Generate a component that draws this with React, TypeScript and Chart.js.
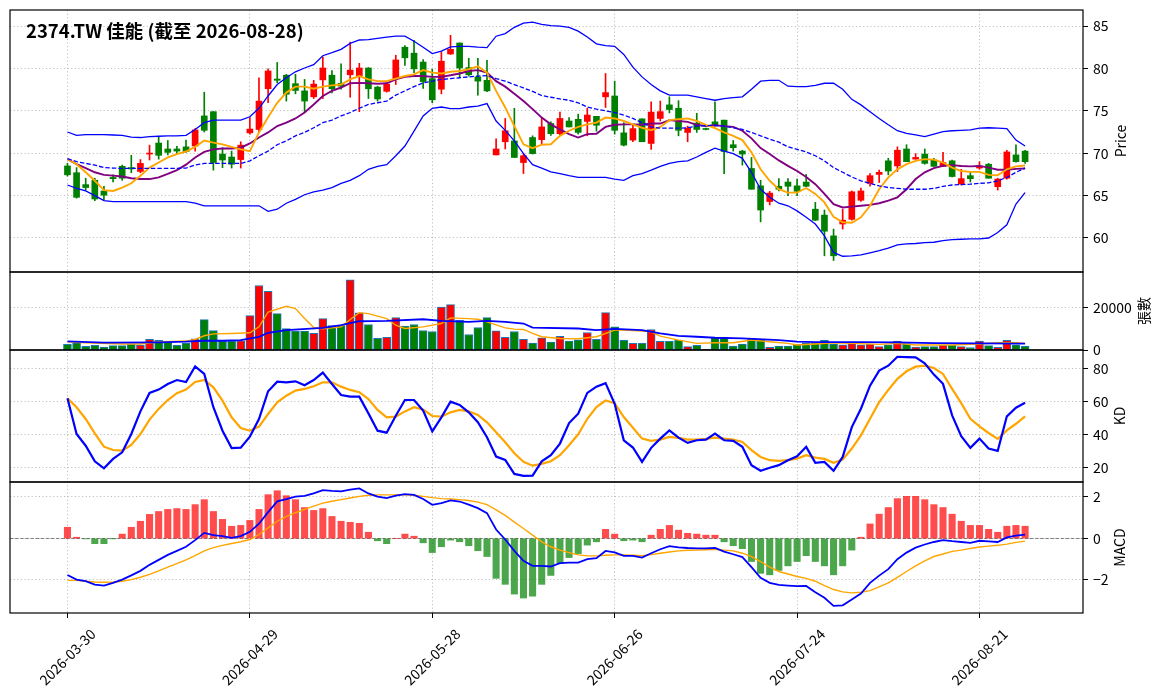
import React, { useEffect, useRef } from "react";
import { Chart, registerables } from "chart.js";

Chart.register(...registerables);

// ---------- data ----------
const title = "2374.TW 佳能 (截至 2026-08-28)";

const dates = [
  "2026-03-30", "2026-03-31", "2026-04-01", "2026-04-02", "2026-04-07", "2026-04-08", "2026-04-09", "2026-04-10", "2026-04-13", "2026-04-14",
  "2026-04-15", "2026-04-16", "2026-04-17", "2026-04-20", "2026-04-21", "2026-04-22", "2026-04-23", "2026-04-24", "2026-04-27", "2026-04-28",
  "2026-04-29", "2026-04-30", "2026-05-04", "2026-05-05", "2026-05-06", "2026-05-07", "2026-05-08", "2026-05-11", "2026-05-12", "2026-05-13",
  "2026-05-14", "2026-05-15", "2026-05-18", "2026-05-19", "2026-05-20", "2026-05-21", "2026-05-22", "2026-05-25", "2026-05-26", "2026-05-27",
  "2026-05-28", "2026-05-29", "2026-06-01", "2026-06-02", "2026-06-03", "2026-06-04", "2026-06-05", "2026-06-08", "2026-06-09", "2026-06-10",
  "2026-06-11", "2026-06-12", "2026-06-15", "2026-06-16", "2026-06-17", "2026-06-18", "2026-06-22", "2026-06-23", "2026-06-24", "2026-06-25",
  "2026-06-26", "2026-06-29", "2026-06-30", "2026-07-01", "2026-07-02", "2026-07-03", "2026-07-06", "2026-07-07", "2026-07-08", "2026-07-09",
  "2026-07-10", "2026-07-13", "2026-07-14", "2026-07-15", "2026-07-16", "2026-07-17", "2026-07-20", "2026-07-21", "2026-07-22", "2026-07-23",
  "2026-07-24", "2026-07-27", "2026-07-28", "2026-07-29", "2026-07-30", "2026-07-31", "2026-08-03", "2026-08-04", "2026-08-05", "2026-08-06",
  "2026-08-07", "2026-08-10", "2026-08-11", "2026-08-12", "2026-08-13", "2026-08-14", "2026-08-17", "2026-08-18", "2026-08-19", "2026-08-20",
  "2026-08-21", "2026-08-24", "2026-08-25", "2026-08-26", "2026-08-27", "2026-08-28",
];

const opens = [
  68.5, 67.7, 66.3, 66.8, 65.55, 67.15, 68.45, 68.3, 67.85, 69.9,
  71.2, 70.5, 70.5, 70.75, 70.85, 74.4, 74.9, 69.9, 69.55, 69.25,
  72.4, 72.8, 77.6, 78.75, 79.2, 78.2, 77.35, 76.65, 78.65, 79.2,
  78.25, 79.25, 79.15, 80.05, 77.8, 77.3, 78.8, 82.5, 81.8, 80.75,
  78.8, 77.55, 81.7, 83.0, 80.1, 79.0, 78.6, 69.8, 71.35, 71.45,
  68.9, 71.85, 71.6, 73.5, 72.3, 73.8, 74.0, 73.75, 74.35, 76.65,
  76.75, 72.4, 71.55, 74.05, 71.15, 74.1, 75.7, 75.3, 72.45, 73.55,
  72.9, 73.7, 73.9, 71.0, 70.25, 68.2, 66.15, 64.3, 66.1, 66.6,
  66.15, 66.6, 63.4, 62.7, 60.25, 61.65, 62.2, 64.45, 66.45, 67.5,
  69.1, 68.5, 70.5, 69.3, 69.9, 69.2, 68.45, 69.1, 66.35, 67.35,
  68.25, 68.7, 66.05, 67.05, 69.8, 70.25,
];
const highs = [
  68.8, 68.3, 67.05, 67.05, 66.1, 67.45, 68.6, 69.75, 69.25, 70.95,
  71.9, 71.5, 70.8, 71.55, 72.9, 77.2, 74.9, 70.65, 70.25, 71.35,
  74.2, 78.9, 79.95, 80.7, 79.3, 79.3, 78.7, 78.6, 81.35, 79.75,
  80.55, 83.1, 80.6, 80.1, 77.9, 78.3, 81.55, 82.7, 83.3, 81.05,
  79.9, 81.95, 83.9, 83.0, 81.2, 81.2, 80.95, 71.7, 74.1, 75.3,
  69.95, 72.05, 74.2, 73.7, 74.85, 74.2, 74.6, 75.3, 74.35, 79.4,
  78.5, 73.6, 73.4, 74.05, 76.05, 76.15, 76.65, 76.2, 73.2, 74.7,
  72.95, 76.05, 73.9, 71.5, 70.35, 69.5, 66.8, 65.5, 67.0, 67.0,
  66.95, 67.5, 64.2, 63.3, 61.05, 63.4, 65.55, 65.9, 67.6, 68.0,
  69.4, 70.75, 71.0, 69.95, 70.5, 69.4, 70.1, 69.2, 68.1, 67.85,
  69.0, 68.8, 67.05, 70.35, 71.0, 70.35,
];
const lows = [
  67.3, 64.7, 65.65, 64.4, 64.5, 66.6, 66.8, 67.7, 67.7, 69.2,
  69.3, 69.8, 69.95, 70.1, 70.25, 72.5, 68.0, 68.3, 68.25, 68.25,
  72.25, 72.45, 75.95, 78.3, 76.15, 77.0, 74.9, 76.45, 76.45, 77.1,
  77.55, 76.6, 74.9, 76.45, 76.15, 77.2, 78.1, 80.35, 79.5, 77.65,
  75.95, 77.0, 81.65, 79.0, 79.1, 76.85, 77.25, 69.8, 70.5, 69.5,
  67.6, 69.9, 71.0, 72.1, 72.1, 73.1, 72.25, 72.05, 72.6, 75.4,
  72.25, 70.85, 71.35, 71.35, 70.45, 73.8, 74.75, 72.05, 71.35, 72.45,
  72.75, 73.2, 67.6, 70.25, 68.6, 65.75, 61.9, 63.9, 65.55, 65.0,
  65.0, 66.05, 62.05, 57.9, 57.35, 61.05, 62.1, 64.3, 66.1, 66.55,
  67.45, 67.85, 69.0, 69.3, 68.7, 68.45, 68.45, 67.2, 66.25, 66.6,
  68.1, 67.05, 65.65, 66.95, 68.95, 68.8,
];
const closes = [
  67.45, 64.8, 65.95, 64.6, 65.05, 67.0, 67.05, 68.15, 68.8, 69.95,
  69.75, 70.1, 70.25, 70.2, 72.75, 72.7, 68.9, 69.2, 68.7, 70.95,
  72.85, 76.15, 79.7, 78.6, 76.95, 77.4, 76.15, 78.15, 80.05, 77.6,
  77.9, 79.8, 80.05, 77.6, 76.4, 78.15, 81.0, 81.25, 79.95, 78.45,
  76.3, 80.85, 82.25, 80.05, 79.25, 78.5, 77.35, 70.5, 72.65, 69.5,
  69.7, 69.95, 73.1, 72.3, 74.1, 73.1, 72.45, 74.5, 73.3, 77.15,
  72.7, 70.95, 72.9, 71.35, 74.85, 74.9, 75.15, 72.7, 72.95, 72.8,
  72.8, 73.3, 70.2, 70.65, 69.9, 65.75, 63.3, 65.3, 65.75, 66.1,
  65.5, 66.1, 62.1, 60.8, 57.9, 62.1, 65.45, 65.55, 67.35, 67.75,
  67.9, 70.35, 69.0, 69.5, 68.8, 68.45, 68.9, 67.25, 67.0, 67.0,
  68.5, 67.05, 66.95, 70.15, 69.0, 69.0,
];
const volumes = [
  2680, 3470, 1730, 2200, 1420, 2050, 2050, 2680, 2360, 5040,
  4570, 3620, 2200, 3300, 5350, 14490, 9290, 4100, 4100, 4410,
  16380, 30700, 27900, 17300, 10240, 8980, 8980, 7880, 14960, 11650,
  11650, 33400, 17640, 12130, 5510, 5990, 15440, 11340, 12130, 9290,
  8820, 20480, 21580, 14180, 7400, 10710, 15440, 9140, 5990, 8820,
  5040, 3300, 5830, 3780, 6460, 4250, 4880, 8350, 5040, 17800,
  11030, 4570, 3150, 3150, 9770, 4100, 4100, 4730, 1580, 2200,
  300, 5990, 5830, 1890, 2840, 5510, 5200, 1260, 1890, 1890,
  2680, 3300, 3300, 4570, 2840, 2520, 3000, 2520, 2840, 1580,
  2520, 4250, 3000, 1420, 1580, 1580, 2200, 2360, 1580, 1100,
  4250, 2050, 1260, 4570, 2520, 1730,
];
const bbUpper = [
  72.5, 72.1, 72.2, 72.2, 72.2, 72.15, 72.1, 71.9, 71.85, 71.95,
  72.0, 72.05, 72.05, 72.1, 72.8, 73.6, 73.9, 73.9, 73.9, 73.9,
  74.3, 75.3, 76.75, 78.1, 78.9, 79.6, 80.05, 80.45, 81.5, 81.85,
  82.25, 82.95, 83.35, 83.4, 83.55, 83.7, 83.8, 83.8, 83.2, 82.5,
  81.75, 82.05, 82.55, 82.6, 82.6, 82.5, 82.45, 83.8, 84.1, 84.85,
  85.35, 85.45, 85.2, 85.05, 85.0, 84.85, 84.4, 83.7, 82.9, 82.7,
  82.6, 81.65, 80.15, 79.0, 78.1, 77.35, 76.85, 76.85, 76.85, 76.65,
  76.45, 76.25, 76.45, 76.55, 76.65, 77.55, 78.5, 78.6, 78.6, 77.9,
  77.85, 77.85, 78.0, 78.25, 78.25, 77.55, 76.35, 75.7, 74.9, 74.1,
  73.35, 72.65, 72.35, 72.15, 71.95, 72.25, 72.55, 72.65, 72.7, 72.75,
  72.95, 73.0, 72.95, 72.9, 71.55, 70.85,
];
const bbMid = [
  69.35, 69.0, 68.8, 68.6, 68.3, 68.25, 68.2, 68.2, 68.2, 68.2,
  68.2, 68.2, 68.2, 68.25, 68.6, 68.8, 68.8, 68.8, 68.8, 68.8,
  69.1, 69.7, 70.25, 71.0, 71.45, 72.05, 72.45, 73.0, 73.6, 73.9,
  74.4, 74.8, 75.3, 75.75, 75.95, 76.15, 76.85, 77.35, 77.85, 78.3,
  78.5, 78.7, 78.8, 78.9, 79.0, 79.1, 79.15, 78.8, 78.5, 78.1,
  77.7, 77.3, 76.8, 76.6, 76.4, 76.25, 75.95, 75.45, 75.2, 75.0,
  74.8, 74.5, 74.1, 73.6, 73.1, 72.95, 72.95, 72.95, 73.0, 73.2,
  73.25, 73.3, 73.2, 73.0, 72.8, 72.45, 72.05, 71.65, 71.3, 70.75,
  70.45, 70.15, 69.7, 69.1, 68.3, 67.75, 67.2, 66.75, 66.45, 66.15,
  65.95, 65.85, 65.75, 65.75, 65.75, 65.85, 66.1, 66.25, 66.3, 66.35,
  66.45, 66.5, 66.75, 67.15, 67.75, 68.25,
];
const bbLower = [
  66.25, 65.85, 65.55, 65.0, 64.4, 64.3, 64.3, 64.3, 64.3, 64.3,
  64.3, 64.3, 64.3, 64.3, 64.1, 63.8, 63.8, 63.8, 63.8, 63.8,
  63.8, 63.8, 63.15, 63.4, 64.1, 64.55, 65.1, 65.45, 65.65, 65.95,
  66.45, 66.8, 67.35, 68.1, 68.45, 68.65, 69.7, 70.85, 72.6, 74.4,
  75.3, 75.45, 75.25, 75.25, 75.45, 75.55, 75.85, 73.8, 72.7, 71.45,
  69.95, 68.65, 68.25, 67.8, 67.6, 67.35, 67.15, 67.15, 67.15, 67.15,
  66.95, 66.8, 67.35, 67.6, 68.0, 68.45, 68.8, 69.0, 69.1, 69.55,
  70.1, 70.6, 70.25, 69.95, 69.4, 67.75, 65.75, 64.8, 64.1, 63.8,
  63.2, 62.45, 61.65, 60.25, 58.3, 57.85, 57.9, 58.0, 58.25, 58.5,
  58.8, 59.2, 59.3, 59.35, 59.45, 59.5, 59.7, 59.8, 59.85, 59.9,
  59.9, 60.0, 60.65, 61.55, 64.0, 65.35,
];
const ma5 = [
  69.3, 68.7, 67.75, 66.75, 65.65, 65.55, 65.95, 66.45, 67.35, 68.3,
  68.9, 69.5, 69.9, 70.2, 70.75, 71.5, 71.25, 71.05, 70.75, 70.45,
  70.25, 72.45, 74.25, 75.95, 77.15, 77.85, 77.85, 77.6, 77.85, 78.0,
  78.1, 78.7, 79.1, 78.7, 78.5, 78.5, 78.8, 79.1, 79.3, 79.8,
  79.5, 79.4, 79.6, 79.7, 79.9, 80.25, 79.5, 77.35, 75.4, 73.2,
  71.05, 70.6, 71.0, 71.05, 72.05, 72.65, 73.1, 73.4, 73.6, 74.2,
  74.1, 73.8, 73.4, 73.0, 72.7, 73.1, 73.9, 74.0, 74.1, 73.8,
  73.35, 72.95, 72.45, 72.05, 71.55, 70.1, 68.1, 66.75, 65.75, 65.35,
  65.35, 65.9, 65.2, 64.2, 62.5, 61.85, 61.8, 62.45, 63.8, 65.75,
  67.15, 68.1, 68.7, 69.1, 69.3, 69.25, 68.9, 68.3, 67.9, 67.8,
  67.8, 67.45, 67.4, 68.1, 68.45, 68.55,
];
const ma10 = [
  69.3, 68.7, 68.25, 67.75, 67.45, 67.35, 67.25, 67.05, 66.95, 66.95,
  67.15, 67.55, 68.0, 68.65, 69.5, 70.15, 70.45, 70.55, 70.55, 70.65,
  71.15, 71.85, 72.45, 73.2, 73.6, 74.1, 74.8, 75.75, 76.75, 77.35,
  77.75, 78.25, 78.3, 78.25, 78.2, 78.25, 78.7, 79.0, 79.1, 79.1,
  79.0, 79.0, 79.2, 79.4, 79.7, 79.8, 79.5, 78.5, 77.85, 77.0,
  76.15, 75.2, 74.2, 73.4, 72.8, 72.25, 71.85, 72.25, 72.3, 73.1,
  73.35, 73.4, 73.4, 73.35, 73.5, 73.5, 73.9, 73.8, 73.7, 73.35,
  73.2, 73.3, 73.2, 73.1, 72.65, 71.75, 70.6, 69.9, 69.15, 68.5,
  67.9, 67.2, 66.35, 65.2, 64.0, 63.6, 63.7, 63.8, 63.9, 64.1,
  64.4, 64.8, 65.75, 66.95, 67.75, 68.25, 68.5, 68.6, 68.5, 68.45,
  68.5, 68.3, 68.05, 68.05, 68.15, 68.2,
];
// volume moving averages, read as [bar index, value]
const volMaSlow = [
  [0, 4100], [4, 3470], [10, 3620], [13, 3940], [15, 4410], [17, 4410], [19, 4730], [21, 6300],
  [22, 8190], [24, 9450], [28, 10550], [30, 11800], [32, 13700], [35, 13860], [39, 14650], [41, 13860],
  [44, 13390], [46, 13860], [48, 13390], [50, 12600], [51, 10700], [56, 10240], [58, 9450], [60, 10080],
  [63, 9450], [65, 7880], [67, 6770], [69, 6300], [71, 5830], [74, 5510], [78, 4730], [80, 3940],
  [82, 3780], [87, 3780], [91, 3620], [95, 3300], [100, 3150], [105, 3000],
];
const volMaFast = [
  [0, 3940], [2, 3470], [6, 2840], [8, 2840], [10, 3780], [13, 4250], [14, 5040], [15, 6770],
  [16, 7700], [18, 7880], [20, 8190], [21, 11030], [22, 18110], [24, 20800], [25, 19700], [26, 14960],
  [27, 10700], [28, 10080], [30, 11030], [31, 14490], [32, 17800], [33, 17330], [35, 14960], [36, 11800],
  [37, 10240], [39, 11030], [41, 12600], [42, 15280], [44, 14960], [45, 14650], [46, 13390], [48, 10550],
  [49, 9920], [50, 9770], [51, 7880], [52, 6300], [54, 5510], [56, 5350], [58, 6300], [60, 9450],
  [61, 9450], [63, 8980], [64, 8660], [65, 6620], [67, 4730], [69, 3150], [71, 3470], [73, 3470],
  [75, 4730], [77, 3940], [79, 3150], [80, 2360], [82, 2840], [84, 3470], [86, 3150], [89, 2680],
  [91, 3150], [93, 2360], [95, 2360], [97, 2360], [100, 2840], [102, 3470], [104, 3470], [105, 3150],
];
const kLine = [
  62.2, 40.6, 33.5, 24.0, 19.8, 25.5, 29.5, 40.6, 54.3, 65.5,
  67.5, 70.9, 73.3, 72.1, 81.6, 77.0, 56.8, 42.6, 32.1, 32.3,
  39.0, 49.7, 66.5, 72.3, 71.9, 72.5, 70.1, 73.3, 77.8, 70.9,
  64.2, 63.2, 63.2, 53.1, 42.6, 41.4, 51.7, 61.2, 61.2, 54.8,
  42.2, 50.7, 60.2, 58.2, 53.7, 47.7, 38.6, 26.9, 24.9, 16.4,
  15.2, 15.4, 24.0, 27.7, 34.8, 47.2, 52.9, 65.5, 69.3, 71.4,
  58.9, 36.8, 32.4, 23.7, 32.2, 37.8, 42.8, 38.4, 35.2, 36.8,
  37.2, 40.8, 36.8, 36.4, 32.8, 21.7, 18.3, 20.1, 21.7, 24.7,
  27.1, 32.8, 23.1, 23.7, 18.3, 26.7, 44.8, 55.9, 69.9, 79.0,
  82.0, 87.4, 87.2, 87.0, 83.4, 76.6, 71.0, 51.9, 39.2, 32.2,
  37.8, 31.8, 30.4, 51.3, 56.5, 59.5,
];
const dLine = [
  62.2, 56.8, 49.7, 41.0, 32.9, 30.9, 30.5, 34.0, 40.6, 49.3,
  55.8, 61.2, 65.3, 67.5, 72.1, 73.3, 68.9, 60.8, 50.7, 44.2,
  42.6, 45.1, 52.7, 59.8, 63.8, 66.9, 67.9, 69.5, 71.9, 71.9,
  69.3, 67.3, 65.9, 61.8, 55.2, 50.7, 51.1, 54.3, 56.8, 55.4,
  51.5, 51.1, 53.7, 55.2, 54.3, 52.1, 47.7, 41.6, 35.6, 28.9,
  23.8, 21.4, 22.5, 24.1, 27.7, 33.8, 40.4, 49.8, 56.9, 60.9,
  59.3, 50.9, 44.4, 37.8, 36.4, 37.2, 38.8, 38.2, 37.2, 37.2,
  37.6, 38.4, 37.8, 37.2, 35.8, 30.8, 26.7, 24.7, 24.3, 24.7,
  25.7, 27.7, 26.3, 25.5, 23.1, 25.1, 31.8, 39.8, 49.8, 59.9,
  67.3, 74.0, 78.6, 81.4, 82.0, 80.6, 77.0, 67.9, 59.3, 49.8,
  45.2, 41.2, 37.6, 42.8, 46.8, 51.3,
];
const macdHist = [
  0.54, 0.06, -0.02, -0.25, -0.25, -0.01, 0.21, 0.54, 0.83, 1.16,
  1.30, 1.40, 1.44, 1.40, 1.63, 1.87, 1.30, 0.92, 0.59, 0.63,
  0.87, 1.40, 2.11, 2.30, 2.06, 1.87, 1.49, 1.35, 1.44, 1.06,
  0.83, 0.78, 0.73, 0.30, -0.11, -0.25, 0.0, 0.21, 0.11, -0.21,
  -0.68, -0.40, -0.08, -0.16, -0.35, -0.59, -0.87, -1.92, -2.21, -2.68,
  -2.87, -2.78, -2.21, -1.78, -1.19, -0.92, -0.73, -0.32, -0.16, 0.44,
  0.21, -0.11, -0.08, -0.16, 0.16, 0.44, 0.63, 0.40, 0.25, 0.21,
  0.16, 0.16, -0.16, -0.35, -0.49, -1.11, -1.68, -1.75, -1.54, -1.32,
  -1.11, -0.83, -1.11, -1.32, -1.75, -1.32, -0.56, 0.06, 0.70, 1.17,
  1.49, 1.92, 2.03, 2.03, 1.87, 1.63, 1.49, 1.17, 0.83, 0.63,
  0.63, 0.44, 0.30, 0.59, 0.63, 0.59,
];
const macdLine = [
  -1.76, -1.98, -2.06, -2.22, -2.27, -2.14, -1.98, -1.78, -1.56, -1.27,
  -1.03, -0.79, -0.60, -0.40, -0.08, 0.27, 0.16, 0.11, 0.03, 0.11,
  0.32, 0.71, 1.27, 1.79, 1.90, 2.02, 2.05, 2.17, 2.33, 2.29,
  2.27, 2.35, 2.41, 2.17, 2.02, 1.94, 2.06, 2.14, 2.10, 1.90,
  1.62, 1.70, 1.83, 1.78, 1.63, 1.46, 1.22, 0.43, -0.05, -0.60,
  -1.08, -1.32, -1.32, -1.35, -1.19, -1.16, -1.16, -1.00, -0.95, -0.60,
  -0.67, -0.84, -0.84, -0.92, -0.71, -0.52, -0.37, -0.43, -0.46, -0.48,
  -0.48, -0.46, -0.63, -0.76, -0.90, -1.38, -1.90, -2.14, -2.24, -2.27,
  -2.30, -2.29, -2.59, -2.86, -3.25, -3.22, -2.94, -2.65, -2.14, -1.79,
  -1.48, -1.00, -0.68, -0.44, -0.29, -0.17, -0.08, -0.13, -0.17, -0.21,
  -0.11, -0.14, -0.17, 0.05, 0.14, 0.19,
];
const macdSignal = [
  -2.02, -2.02, -2.06, -2.10, -2.11, -2.10, -2.06, -1.98, -1.87, -1.73,
  -1.56, -1.38, -1.21, -1.03, -0.83, -0.60, -0.44, -0.33, -0.24, -0.16,
  -0.05, 0.19, 0.51, 0.83, 1.06, 1.24, 1.40, 1.56, 1.70, 1.79,
  1.87, 1.95, 2.03, 2.08, 2.10, 2.10, 2.10, 2.10, 2.08, 2.03,
  1.97, 1.92, 1.90, 1.87, 1.83, 1.75, 1.63, 1.38, 1.11, 0.79,
  0.48, 0.16, -0.16, -0.40, -0.56, -0.68, -0.79, -0.84, -0.84, -0.81,
  -0.79, -0.79, -0.81, -0.83, -0.78, -0.71, -0.65, -0.60, -0.57, -0.56,
  -0.54, -0.52, -0.56, -0.60, -0.71, -0.87, -1.11, -1.38, -1.59, -1.71,
  -1.83, -1.92, -2.06, -2.27, -2.46, -2.57, -2.62, -2.59, -2.51, -2.33,
  -2.14, -1.87, -1.59, -1.32, -1.08, -0.87, -0.75, -0.62, -0.56, -0.48,
  -0.41, -0.37, -0.33, -0.27, -0.19, -0.13,
];

// tick values
const xTickIndex = [0, 20, 40, 60, 80, 100];
const priceTicks = [60, 65, 70, 75, 80, 85];
const volumeTicks = [0, 20000];
const kdTicks = [20, 40, 60, 80];
const macdTicks = [-2, 0, 2];

// ---------- styling ----------
const FONT = "'Noto Sans CJK TC', 'Noto Sans', sans-serif";
const UP = "#ff0000";
const DOWN = "#008000";
const HIST_UP = "rgba(255,0,0,0.7)";
const HIST_DOWN = "rgba(0,128,0,0.7)";

const pts = (arr: number[]) => arr.map((v, i) => ({ x: i, y: v }));
const pairPts = (arr: number[][]) => arr.map(([x, y]) => ({ x, y }));

const overlayPlugin = {
  id: "overlay",
  beforeDatasetsDraw(chart: any) {
    const ctx = chart.ctx;
    const { left, right } = chart.chartArea;
    const s = chart.scales.yMACD;
    const y = s.getPixelForValue(0);
    ctx.save();
    ctx.strokeStyle = "#808080";
    ctx.lineWidth = 1;
    ctx.setLineDash([3.5, 1.6]);
    ctx.beginPath();
    ctx.moveTo(left, y);
    ctx.lineTo(right, y);
    ctx.stroke();
    ctx.restore();
  },
  afterDraw(chart: any) {
    const ctx = chart.ctx;
    const { left, right, bottom } = chart.chartArea;
    ctx.save();
    // panel frames
    ctx.strokeStyle = "#000";
    ctx.lineWidth = 1.2;
    ["yPrice", "yVol", "yKD", "yMACD"].forEach((id) => {
      const s = chart.scales[id];
      ctx.strokeRect(left, s.top, right - left, s.bottom - s.top);
    });
    // rotated date labels
    ctx.fillStyle = "#000";
    ctx.font = `14px ${FONT}`;
    ctx.textAlign = "center";
    ctx.textBaseline = "middle";
    const xs = chart.scales.x;
    xTickIndex.forEach((i) => {
      const px = xs.getPixelForValue(i);
      ctx.save();
      ctx.translate(px, bottom + 44);
      ctx.rotate(-Math.PI / 4);
      ctx.fillText(dates[i], 0, 0);
      ctx.restore();
    });
    // axis titles
    const vTitle = (text: string, id: string, dx: number) => {
      const s = chart.scales[id];
      ctx.save();
      ctx.translate(right + dx, (s.top + s.bottom) / 2);
      ctx.rotate(-Math.PI / 2);
      ctx.fillText(text, 0, 0);
      ctx.restore();
    };
    vTitle("Price", "yPrice", 38);
    vTitle("張數", "yVol", 61);
    vTitle("KD", "yKD", 37);
    vTitle("MACD", "yMACD", 37);
    // title
    ctx.textAlign = "left";
    ctx.font = `bold 18.5px ${FONT}`;
    ctx.fillText(title, 26, 31);
    ctx.restore();
  },
};

export default function App() {
  const ref = useRef<HTMLCanvasElement>(null);

  useEffect(() => {
    const canvas = ref.current;
    if (!canvas) return;
    const candleColors = closes.map((c, i) => (c >= opens[i] ? UP : DOWN));
    const histColors = macdHist.map((v) => (v >= 0 ? HIST_UP : HIST_DOWN));

    const grid = { color: "#b0b0b0", lineWidth: 0.8, tickColor: "#000", tickLength: 5, tickWidth: 1 };
    const border = { display: false, dash: [1.2, 2.4] };
    const tickFont = { family: FONT, size: 14 };
    const minusFmt = (v: number) => (v < 0 ? "\u2212" + Math.abs(v) : String(v));

    const yScale = (weight: number, min: number, max: number, ticks: number[]) => ({
      type: "linear",
      position: "right",
      stack: "panels",
      stackWeight: weight,
      min,
      max,
      offset: false,
      afterBuildTicks: (s: any) => {
        s.ticks = ticks.map((v) => ({ value: v }));
      },
      afterFit: (s: any) => {
        s.width = 81;
        s.paddingTop = 0;
        s.paddingBottom = 0;
      },
      ticks: { font: tickFont, color: "#000", padding: 5, callback: (v: any) => minusFmt(Number(v)) },
      grid,
      border,
    });

    const line = (label: string, data: any[], axis: string, color: string, width: number, extra: any = {}) => ({
      type: "line",
      label,
      data,
      yAxisID: axis,
      borderColor: color,
      backgroundColor: color,
      borderWidth: width,
      pointRadius: 0,
      tension: 0,
      fill: false,
      order: 1,
      ...extra,
    });

    const chart = new Chart(canvas, {
      type: "bar",
      data: {
        datasets: [
          // price panel lines
          line("BB Upper", pts(bbUpper), "yPrice", "#0000ff", 1.3),
          line("BB Mid", pts(bbMid), "yPrice", "#0000ff", 1.3, { borderDash: [4.5, 2] }),
          line("BB Lower", pts(bbLower), "yPrice", "#0000ff", 1.3),
          line("MA5", pts(ma5), "yPrice", "#ffa500", 1.9),
          line("MA10", pts(ma10), "yPrice", "#800080", 1.9),
          // candles
          {
            type: "bar",
            label: "Body",
            data: opens.map((o, i) => ({ x: i, y: [o, closes[i]] })),
            yAxisID: "yPrice",
            backgroundColor: candleColors,
            borderWidth: 0,
            barThickness: 6,
            minBarLength: 1,
            grouped: false,
            order: 8,
          },
          {
            type: "bar",
            label: "Wick",
            data: lows.map((l, i) => ({ x: i, y: [l, highs[i]] })),
            yAxisID: "yPrice",
            backgroundColor: candleColors,
            borderWidth: 0,
            barThickness: 1,
            grouped: false,
            order: 9,
          },
          // volume panel
          line("Vol MA slow", pairPts(volMaSlow), "yVol", "#0000ff", 1.8),
          line("Vol MA fast", pairPts(volMaFast), "yVol", "#ffa500", 1.4),
          {
            type: "bar",
            label: "Volume",
            data: pts(volumes),
            yAxisID: "yVol",
            backgroundColor: candleColors,
            borderColor: "#1f77b4",
            borderWidth: 1,
            borderSkipped: false,
            barThickness: 8,
            grouped: false,
            order: 9,
          },
          // KD panel
          line("K", pts(kLine), "yKD", "#0000ff", 2.2),
          line("D", pts(dLine), "yKD", "#ffa500", 2.2),
          // MACD panel
          line("MACD", pts(macdLine), "yMACD", "#0000ff", 1.8),
          line("Signal", pts(macdSignal), "yMACD", "#ffa500", 1.4),
          {
            type: "bar",
            label: "Hist",
            data: pts(macdHist),
            yAxisID: "yMACD",
            backgroundColor: histColors,
            borderWidth: 0,
            barThickness: 6.4,
            grouped: false,
            order: 9,
          },
        ] as any,
      },
      options: {
        responsive: false,
        animation: false,
        events: [],
        layout: { padding: { left: 10, top: 10, right: 0, bottom: 0 } },
        plugins: { legend: { display: false }, tooltip: { enabled: false }, title: { display: false } },
        scales: {
          x: {
            type: "linear",
            min: -6.3,
            max: 111.35,
            offset: false,
            afterBuildTicks: (s: any) => {
              s.ticks = xTickIndex.map((v) => ({ value: v }));
            },
            afterFit: (s: any) => {
              s.height = 85;
              s.paddingLeft = 0;
              s.paddingRight = 0;
            },
            ticks: { display: false },
            grid: { ...grid, offset: false },
            border,
          },
          yPrice: yScale(262, 55.99, 86.89, priceTicks),
          yVol: yScale(78, 0, 37140, volumeTicks),
          yKD: yScale(132, 11.5, 91.5, kdTicks),
          yMACD: yScale(131, -3.59, 2.72, macdTicks),
        } as any,
      },
      plugins: [overlayPlugin],
    } as any);

    return () => chart.destroy();
  }, []);

  return (
    <div style={{ position: "fixed", left: 0, top: 0, width: 1164, height: 698, background: "#fff" }}>
      <canvas ref={ref} width={1164} height={698} style={{ display: "block", width: 1164, height: 698 }} />
    </div>
  );
}
